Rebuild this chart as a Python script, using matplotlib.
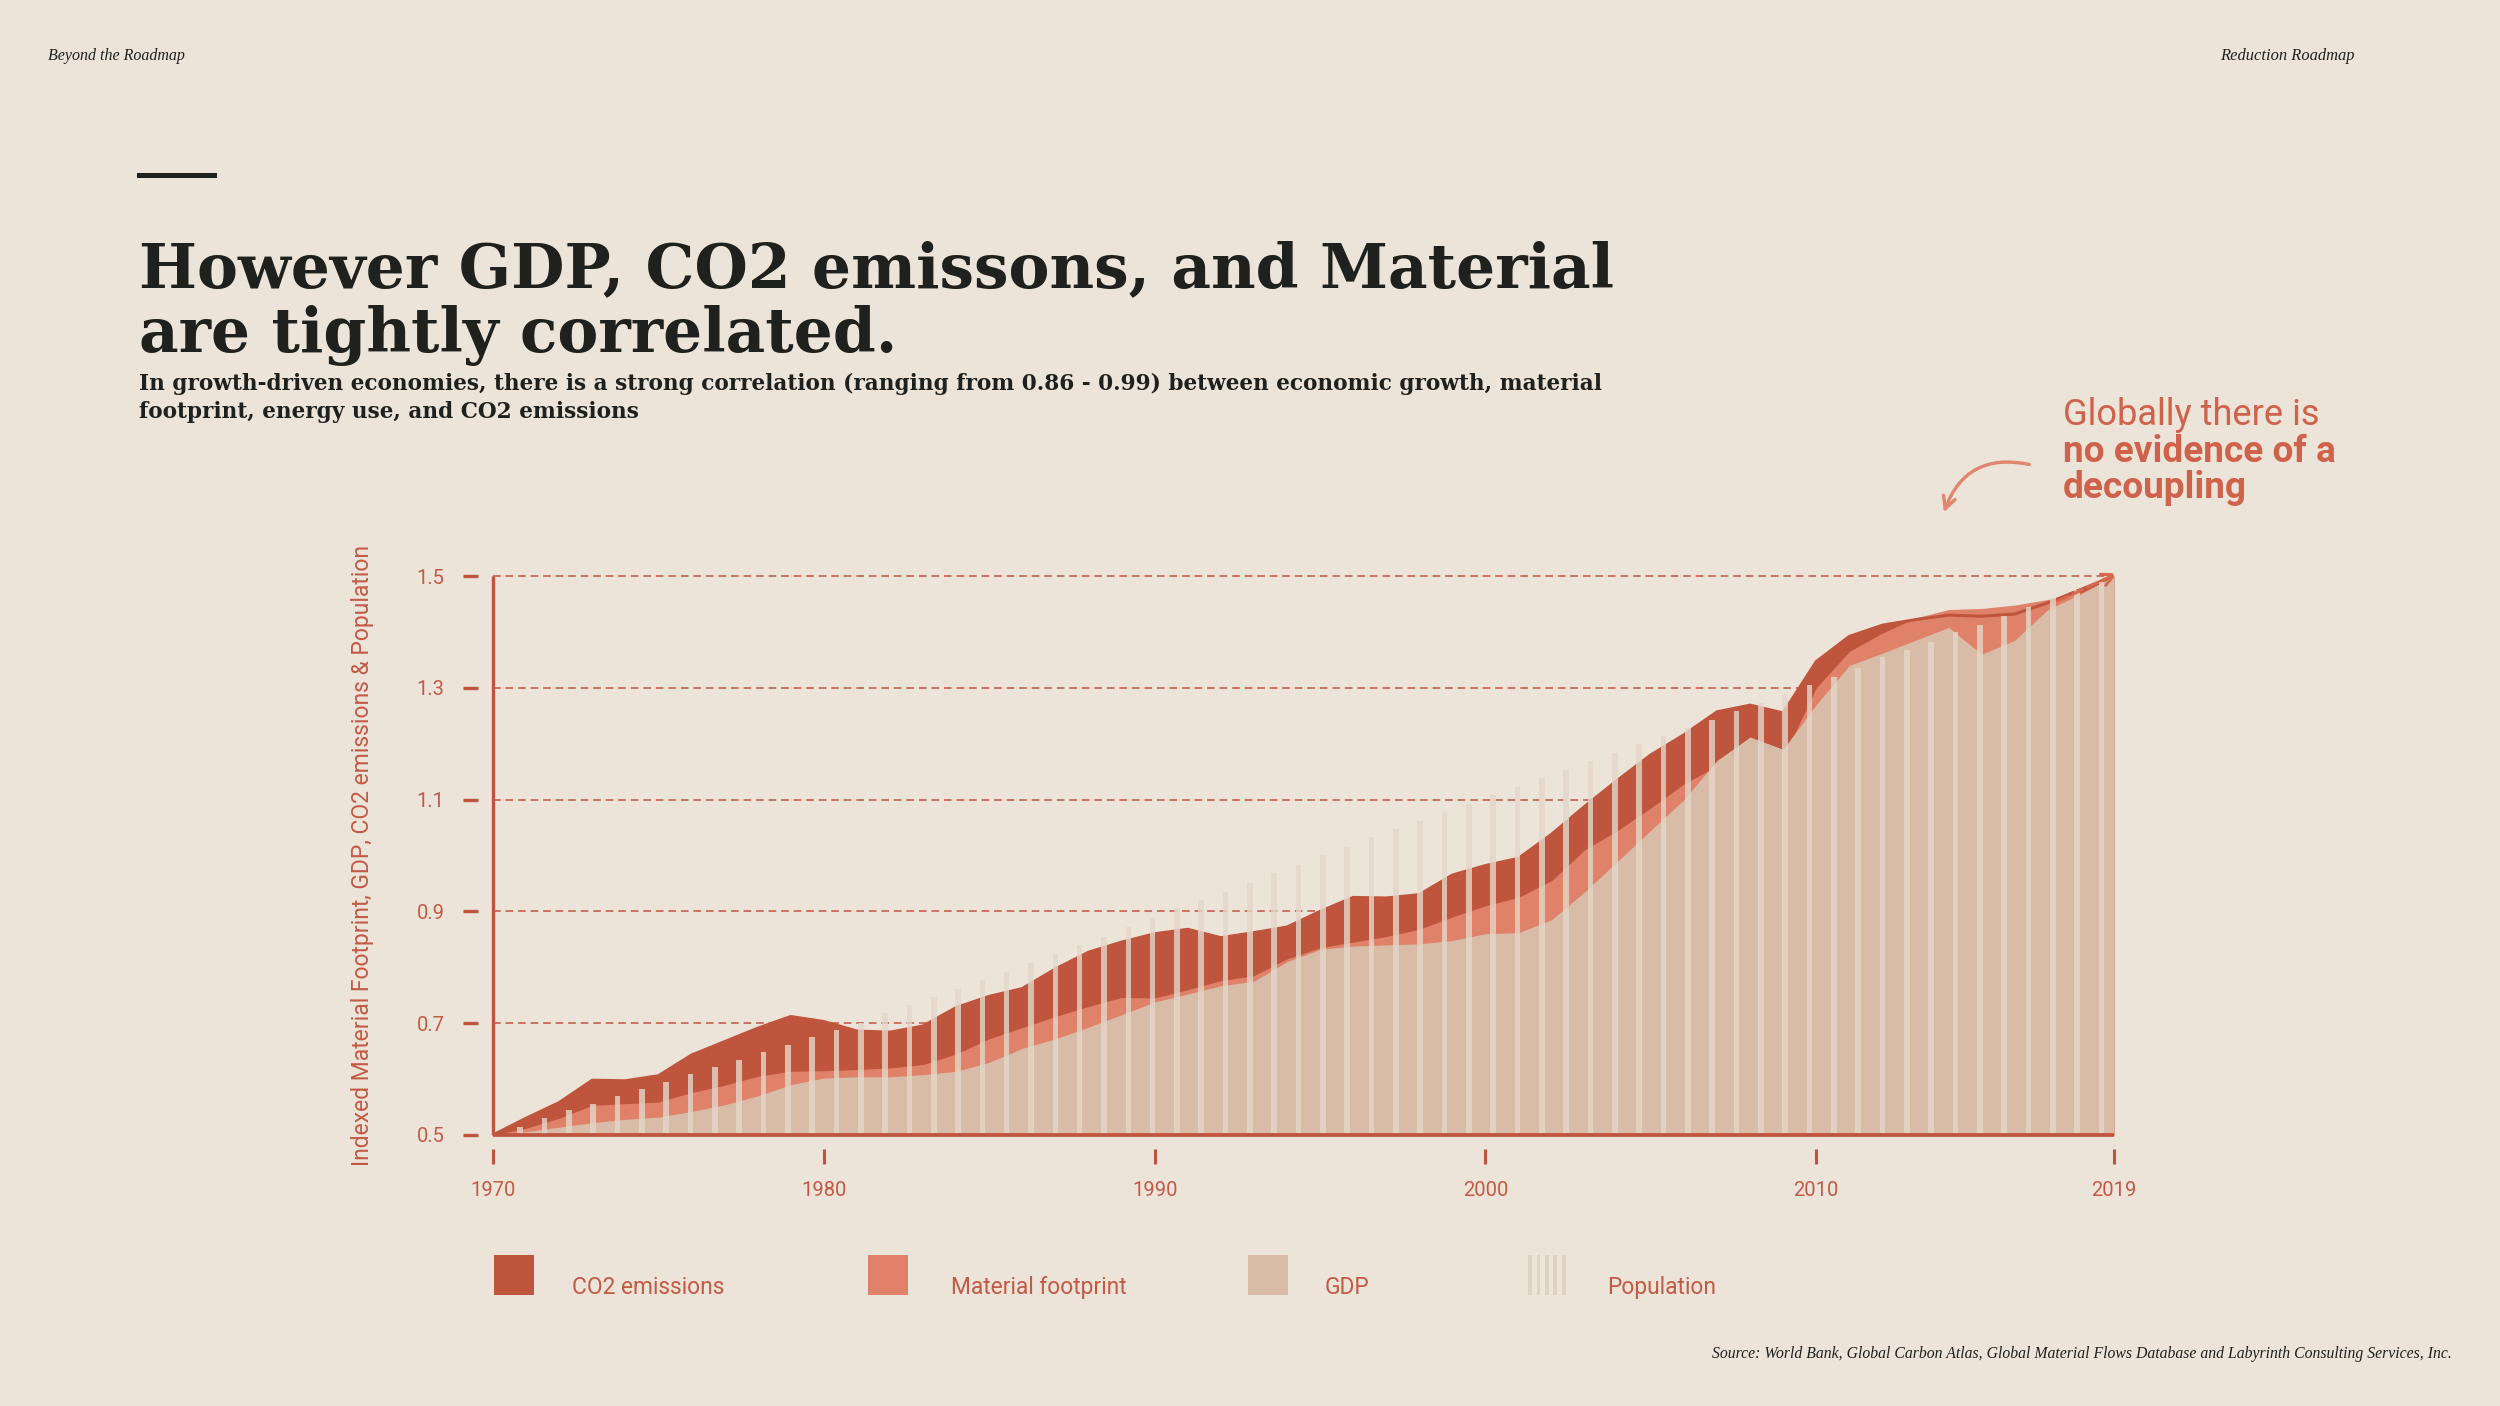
import numpy as np
import matplotlib
matplotlib.use('Agg')
import matplotlib.pyplot as plt
from matplotlib.patches import Rectangle, FancyArrowPatch
from matplotlib.lines import Line2D

# --- data (indexed) ---
years = np.arange(1970, 2020)
co2 = [0.500, 0.530, 0.558, 0.598, 0.597, 0.606, 0.643, 0.667, 0.691, 0.712,
       0.703, 0.686, 0.684, 0.695, 0.728, 0.748, 0.762, 0.797, 0.827, 0.845,
       0.860, 0.868, 0.853, 0.862, 0.872, 0.900, 0.925, 0.924, 0.930, 0.965,
       0.982, 0.995, 1.038, 1.088, 1.135, 1.180, 1.216, 1.257, 1.269, 1.255,
       1.347, 1.392, 1.412, 1.422, 1.430, 1.428, 1.432, 1.452, 1.476, 1.500]
material = [0.500, 0.512, 0.530, 0.553, 0.556, 0.559, 0.576, 0.589, 0.605, 0.614,
            0.615, 0.617, 0.620, 0.626, 0.645, 0.672, 0.692, 0.712, 0.730, 0.746,
            0.745, 0.760, 0.776, 0.785, 0.815, 0.835, 0.845, 0.855, 0.868, 0.890,
            0.910, 0.925, 0.955, 1.010, 1.045, 1.085, 1.128, 1.160, 1.195, 1.175,
            1.300, 1.365, 1.398, 1.425, 1.440, 1.442, 1.448, 1.458, 1.470, 1.498]
gdp = [0.500, 0.506, 0.514, 0.522, 0.528, 0.532, 0.542, 0.554, 0.570, 0.590,
       0.602, 0.604, 0.604, 0.608, 0.614, 0.630, 0.655, 0.672, 0.693, 0.715,
       0.738, 0.752, 0.767, 0.775, 0.810, 0.832, 0.838, 0.840, 0.842, 0.848,
       0.860, 0.862, 0.885, 0.935, 0.990, 1.045, 1.100, 1.170, 1.212, 1.190,
       1.270, 1.340, 1.362, 1.385, 1.408, 1.360, 1.385, 1.440, 1.468, 1.500]
population = [0.515, 0.530, 0.545, 0.555, 0.569, 0.582, 0.595, 0.609, 0.622, 0.634,
              0.648, 0.661, 0.675, 0.688, 0.700, 0.718, 0.733, 0.747, 0.762, 0.777,
              0.792, 0.807, 0.823, 0.839, 0.855, 0.872, 0.889, 0.906, 0.920, 0.935,
              0.951, 0.968, 0.983, 1.001, 1.016, 1.033, 1.047, 1.062, 1.077, 1.092,
              1.108, 1.123, 1.138, 1.153, 1.169, 1.184, 1.199, 1.214, 1.228, 1.242,
              1.259, 1.273, 1.289, 1.305, 1.320, 1.336, 1.355, 1.368, 1.382, 1.400,
              1.413, 1.428, 1.444, 1.460, 1.475, 1.490]
y_ticks = [0.5, 0.7, 0.9, 1.1, 1.3, 1.5]
x_ticks = [1970, 1980, 1990, 2000, 2010, 2019]
legend_labels = ['CO2 emissions', 'Material footprint', 'GDP', 'Population']

# --- colours ---
BG = '#ece3d9'
CO2_C = '#bf553d'
MAT_C = '#e0826a'
GDP_C = '#d9bca7'
POP_C = '#e4d7ca'
AX_C = '#c0553e'
TXT_C = '#c25b45'
DARK = '#1e211d'

W, H = 2500, 1406
fig = plt.figure(figsize=(W / 100, H / 100), dpi=100, facecolor=BG)


def fx(px):
    return px / W


def fy(py):
    return 1 - py / H


ax = fig.add_axes([fx(493), fy(1135), fx(2114) - fx(493), fy(576) - fy(1135)])
ax.set_facecolor('none')
ax.set_xlim(1970, 2019)
ax.set_ylim(0.5, 1.5)

# grid
for v in y_ticks[1:]:
    ax.plot([1970, 2019], [v, v], color=AX_C, lw=1.1, ls=(0, (5, 3.2)), zorder=1,
            clip_on=False)

# areas
ax.fill_between(years, 0.5, co2, color=CO2_C, lw=0, zorder=2)
ax.fill_between(years, 0.5, material, color=MAT_C, lw=0, zorder=3)
ax.plot(years, co2, color=CO2_C, lw=2.2, zorder=3.5, solid_joinstyle='round')
ax.fill_between(years, 0.5, gdp, color=GDP_C, lw=0, zorder=4)

# population bars
pop_x = np.linspace(1970.82, 2018.62, len(population))
ax.bar(pop_x, np.array(population) - 0.5, bottom=0.5, width=0.17, color=POP_C,
       alpha=0.8, lw=0, zorder=5)

# end arrow
ax.annotate('', xy=(2019.1, 1.505), xytext=(2017.3, 1.455), annotation_clip=False,
            arrowprops=dict(arrowstyle='->', color='#d8694f', lw=2.2, ls='--',
                            mutation_scale=22, shrinkA=0, shrinkB=0), zorder=7)

# axis lines drawn by hand, ticks sit detached from them
ax.plot([1970, 1970], [0.5, 1.5], color=AX_C, lw=2.4, zorder=6, clip_on=False,
        solid_capstyle='butt')
ax.plot([1970, 2019], [0.5, 0.5], color=AX_C, lw=2.7, zorder=6, clip_on=False,
        solid_capstyle='butt')
for s in ax.spines.values():
    s.set_visible(False)
ax.spines['left'].set_position(('outward', 11))
ax.spines['bottom'].set_position(('outward', 10))

ax.set_yticks(y_ticks)
ax.set_yticklabels([f'{v:.1f}' for v in y_ticks])
ax.set_xticks(x_ticks)
ax.set_xticklabels([str(v) for v in x_ticks])
ax.tick_params(axis='y', length=11, width=2.4, color=AX_C, pad=13,
               labelcolor=TXT_C, labelsize=14.5)
ax.tick_params(axis='x', length=11, width=2.2, color=AX_C, pad=12,
               labelcolor=TXT_C, labelsize=14.5)
for lab in ax.get_xticklabels() + ax.get_yticklabels():
    lab.set_fontfamily('Roboto')

renderer = fig.canvas.get_renderer()


def fit(t, width_px):
    w = t.get_window_extent(renderer).width
    t.set_fontsize(t.get_fontsize() * width_px / w)


# y label
ylab = fig.text(fx(362), fy(856), 'Indexed Material Footprint, GDP, CO2 emissions & Population',
                rotation=90, ha='center', va='center', color=TXT_C, fontsize=15,
                family='Roboto')
ylab_w = ylab.get_window_extent(renderer).height
ylab.set_fontsize(15 * 623 / ylab_w)

# header texts
t = fig.text(fx(48), fy(56), 'Beyond the Roadmap', ha='left', va='center',
             family='Liberation Serif', style='italic', color=DARK, fontsize=11)
fit(t, 137)
t = fig.text(fx(2355), fy(56), 'Reduction Roadmap', ha='right', va='center',
             family='Liberation Serif', style='italic', color=DARK, fontsize=11)
fit(t, 134)
fig.add_artist(Line2D([fx(139), fx(214)], [fy(175), fy(175)], color=DARK, lw=3.6,
                      transform=fig.transFigure))

# title
t1 = fig.text(fx(139), fy(287), 'However GDP, CO2 emissons, and Material', ha='left',
              va='baseline', family='DejaVu Serif', fontweight='bold', color=DARK,
              fontsize=42)
fit(t1, 1474)
fig.text(fx(139), fy(352), 'are tightly correlated.', ha='left', va='baseline',
         family='DejaVu Serif', fontweight='bold', color=DARK,
         fontsize=t1.get_fontsize())

s1 = fig.text(fx(139), fy(390), 'In growth-driven economies, there is a strong correlation '
              '(ranging from 0.86 - 0.99) between economic growth, material',
              ha='left', va='baseline', family='DejaVu Serif', fontweight='bold',
              color=DARK, fontsize=15)
fit(s1, 1476)
fig.text(fx(139), fy(418), 'footprint, energy use, and CO2 emissions', ha='left',
         va='baseline', family='DejaVu Serif', fontweight='bold', color=DARK,
         fontsize=s1.get_fontsize())

# callout
NOTE_C = '#cf624b'
n1 = fig.text(fx(2063), fy(425), 'Globally there is', ha='left', va='baseline',
              family='Roboto', color=NOTE_C, fontsize=23)
fit(n1, 258)
n2 = fig.text(fx(2063), fy(462), 'no evidence of a', ha='left', va='baseline',
              family='Roboto', fontweight='bold', color=NOTE_C, fontsize=23)
fit(n2, 274)
fig.text(fx(2063), fy(498), 'decoupling', ha='left', va='baseline',
         family='Roboto', fontweight='bold', color=NOTE_C, fontsize=n2.get_fontsize())
fig.add_artist(FancyArrowPatch(
    (fx(2032), fy(465)), (fx(1943), fy(515)), transform=fig.transFigure,
    connectionstyle='arc3,rad=0.45', arrowstyle='->', mutation_scale=22,
    color='#e0876f', lw=2.4))

# legend
leg_x = [494, 868, 1248, 1528]
leg_tx = [572, 951, 1325, 1607]
leg_size = None
for i, lab in enumerate(legend_labels):
    if i < 3:
        col = [CO2_C, MAT_C, GDP_C][i]
        fig.add_artist(Rectangle((fx(leg_x[i]), fy(1295)), fx(40), 40 / H,
                                 transform=fig.transFigure, color=col, lw=0))
    else:
        for k in range(5):
            fig.add_artist(Rectangle((fx(leg_x[i] + k * 8.5), fy(1295)), fx(3.5), 40 / H,
                                     transform=fig.transFigure, color='#dfd1c4', lw=0))
    lt = fig.text(fx(leg_tx[i]), fy(1294), lab, ha='left', va='baseline', family='Roboto',
                  color=TXT_C, fontsize=16 if leg_size is None else leg_size)
    if leg_size is None:
        fit(lt, 153)
        leg_size = lt.get_fontsize()

src = fig.text(fx(2452), fy(1354), 'Source: World Bank, Global Carbon Atlas, Global Material '
               'Flows Database and Labyrinth Consulting Services, Inc.', ha='right',
               va='center', family='Liberation Serif', style='italic', color=DARK,
               fontsize=10)
fit(src, 740)

fig.savefig('out.png', dpi=100, facecolor=BG)
